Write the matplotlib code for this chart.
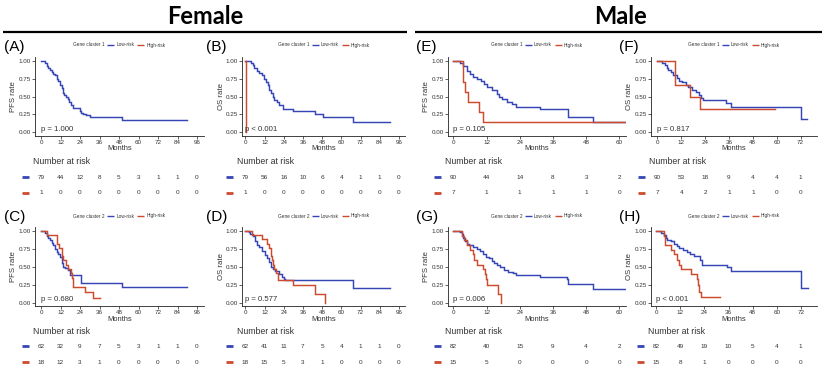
import matplotlib
matplotlib.use('Agg')
import matplotlib.pyplot as plt
from matplotlib.lines import Line2D
import matplotlib.transforms as mtransforms

# ---------------- data ----------------
panel_ids = ['A', 'B', 'C', 'D', 'E', 'F', 'G', 'H']
y_labels = ['PFS rate', 'OS rate', 'PFS rate', 'OS rate', 'PFS rate', 'OS rate', 'PFS rate', 'OS rate']
cluster_names = ['Gene cluster 1', 'Gene cluster 1', 'Gene cluster 2', 'Gene cluster 2',
                 'Gene cluster 1', 'Gene cluster 1', 'Gene cluster 2', 'Gene cluster 2']
p_values = ['p = 1.000', 'p < 0.001', 'p = 0.680', 'p = 0.577',
            'p = 0.105', 'p = 0.817', 'p = 0.006', 'p < 0.001']
group_names = ['Low-risk', 'High-risk']
header_titles = ['Female', 'Male']

# risk-table time points
female_ticks = [0, 12, 24, 36, 48, 60, 72, 84, 96]
male_pfs_ticks = [0, 12, 24, 36, 48, 60]
male_os_ticks = [0, 12, 24, 36, 48, 60, 72]

# Kaplan-Meier step curves (time in months, survival)
A_low_t = [0, 2.5, 3.5, 4.5, 5.5, 6.6, 7.6, 8.6, 9.7, 10.7, 11.7, 12.7, 13.4, 14.2, 15.2, 16.4, 17.3, 18.5, 19.5, 24, 24.7, 25.7, 27.7, 30.2, 33, 49.7, 89.8]
A_low_s = [1.0, 0.97, 0.93, 0.90, 0.88, 0.85, 0.82, 0.80, 0.75, 0.72, 0.66, 0.62, 0.55, 0.53, 0.50, 0.47, 0.42, 0.38, 0.34, 0.30, 0.27, 0.25, 0.24, 0.22, 0.21, 0.17, 0.17]
A_high_t = []
A_high_s = []

B_low_t = [0, 3.6, 4.6, 5.6, 7.1, 8.8, 10.5, 11.9, 13, 14, 15, 16.1, 17.2, 18.2, 19.7, 21.3, 23.4, 29.7, 43.3, 48.5, 67, 90.4]
B_low_s = [1.0, 0.97, 0.94, 0.90, 0.86, 0.83, 0.80, 0.75, 0.70, 0.66, 0.60, 0.55, 0.50, 0.46, 0.42, 0.38, 0.33, 0.30, 0.26, 0.22, 0.14, 0.14]
B_high_t = [0, 0.4, 0.4]
B_high_s = [1.0, 0.0, 0.0]

C_low_t = [0, 2.5, 3.5, 4.5, 5.5, 6.6, 7.6, 8.6, 9.7, 10.7, 11.7, 12.7, 13.8, 14.8, 16.9, 17.9, 24.5, 49.7, 89.8]
C_low_s = [1.0, 0.97, 0.93, 0.90, 0.87, 0.83, 0.80, 0.75, 0.71, 0.68, 0.63, 0.55, 0.50, 0.48, 0.45, 0.39, 0.27, 0.22, 0.22]
C_high_t = [0, 3.5, 9.7, 11.3, 12.7, 13.8, 15.2, 16.9, 18.3, 18.9, 19.5, 27.1, 32.3, 36.4]
C_high_s = [1.0, 0.94, 0.82, 0.76, 0.65, 0.59, 0.53, 0.47, 0.41, 0.35, 0.22, 0.15, 0.07, 0.07]

D_low_t = [0, 2.1, 3.1, 4.7, 6.2, 7.3, 8.3, 10.4, 12.5, 13.5, 15, 16, 17, 18.7, 20.8, 22.9, 23.9, 24.5, 67.2, 90.4]
D_low_s = [1.0, 0.98, 0.96, 0.92, 0.85, 0.80, 0.77, 0.72, 0.66, 0.62, 0.56, 0.50, 0.47, 0.44, 0.40, 0.36, 0.33, 0.32, 0.21, 0.21]
D_high_t = [0, 4.2, 10.4, 13.5, 15, 16, 16.7, 17.3, 18.1, 19.3, 20.2, 30.1, 43.7, 49.5]
D_high_s = [1.0, 0.94, 0.88, 0.82, 0.76, 0.65, 0.59, 0.53, 0.47, 0.41, 0.32, 0.24, 0.12, 0.0]

E_low_t = [0, 2.4, 3.6, 4.8, 6, 7.2, 8.4, 9.9, 11.1, 12.3, 13.9, 15.7, 16.6, 17.5, 19.3, 21.1, 22.7, 31.3, 41.6, 50.6, 62]
E_low_s = [1.0, 0.97, 0.93, 0.86, 0.82, 0.78, 0.75, 0.72, 0.68, 0.64, 0.60, 0.54, 0.50, 0.47, 0.43, 0.39, 0.35, 0.32, 0.22, 0.14, 0.14]
E_high_t = [0, 3.6, 4.2, 5.3, 9.4, 10.6, 62]
E_high_s = [1.0, 0.71, 0.57, 0.43, 0.29, 0.14, 0.14]

F_low_t = [0, 2.5, 3.7, 4.7, 5.5, 6.7, 8, 9.7, 10.9, 12.2, 14.2, 15.4, 17.6, 19.3, 20.9, 22.1, 23.1, 34.3, 36.8, 72, 75]
F_low_s = [1.0, 0.97, 0.94, 0.90, 0.87, 0.84, 0.80, 0.76, 0.72, 0.70, 0.67, 0.64, 0.60, 0.56, 0.52, 0.48, 0.45, 0.41, 0.35, 0.18, 0.18]
F_high_t = [0, 8.7, 16.4, 21.4, 59.1]
F_high_s = [1.0, 0.67, 0.50, 0.33, 0.33]

G_low_t = [0, 2.4, 3, 3.6, 4.2, 4.8, 5.8, 7.2, 8.4, 9.6, 10.8, 11.8, 13, 13.9, 14.7, 15.9, 16.9, 18.3, 19.9, 21.7, 22.7, 31.3, 41, 41.6, 50.6, 62]
G_low_s = [1.0, 0.98, 0.95, 0.90, 0.86, 0.82, 0.80, 0.78, 0.75, 0.72, 0.68, 0.64, 0.62, 0.58, 0.55, 0.52, 0.49, 0.46, 0.43, 0.41, 0.39, 0.36, 0.33, 0.26, 0.19, 0.19]
G_high_t = [0, 3, 4, 4.8, 6, 7, 7.6, 8.4, 10.8, 11.4, 11.8, 12.3, 16.3, 17.1]
G_high_s = [1.0, 0.93, 0.87, 0.80, 0.73, 0.67, 0.60, 0.53, 0.47, 0.40, 0.33, 0.24, 0.12, 0.0]

H_low_t = [0, 2.5, 3.8, 4.7, 5.5, 7.2, 8.8, 10.1, 11.3, 13.5, 15.5, 17, 18.8, 21.8, 23, 35.1, 37.1, 72, 75.4]
H_low_s = [1.0, 0.97, 0.94, 0.90, 0.87, 0.85, 0.82, 0.79, 0.76, 0.73, 0.70, 0.68, 0.65, 0.59, 0.53, 0.50, 0.44, 0.21, 0.21]
H_high_t = [0, 3.8, 4.5, 7.5, 8.8, 10.1, 11.3, 12.5, 17.5, 20.1, 20.8, 21.3, 22.1, 31.8]
H_high_s = [1.0, 0.93, 0.80, 0.73, 0.67, 0.60, 0.53, 0.47, 0.40, 0.33, 0.25, 0.15, 0.08, 0.08]

# numbers at risk
A_risk_low = [79, 44, 12, 8, 5, 3, 1, 1, 0]
A_risk_high = [1, 0, 0, 0, 0, 0, 0, 0, 0]
B_risk_low = [79, 56, 16, 10, 6, 4, 1, 1, 0]
B_risk_high = [1, 0, 0, 0, 0, 0, 0, 0, 0]
C_risk_low = [62, 32, 9, 7, 5, 3, 1, 1, 0]
C_risk_high = [18, 12, 3, 1, 0, 0, 0, 0, 0]
D_risk_low = [62, 41, 11, 7, 5, 4, 1, 1, 0]
D_risk_high = [18, 15, 5, 3, 1, 0, 0, 0, 0]
E_risk_low = [90, 44, 14, 8, 3, 2]
E_risk_high = [7, 1, 1, 1, 1, 0]
F_risk_low = [90, 53, 18, 9, 4, 4, 1]
F_risk_high = [7, 4, 2, 1, 1, 0, 0]
G_risk_low = [82, 40, 15, 9, 4, 2]
G_risk_high = [15, 5, 0, 0, 0, 0]
H_risk_low = [82, 49, 19, 10, 5, 4, 1]
H_risk_high = [15, 8, 1, 0, 0, 0, 0]

curves = {
    'A': ((A_low_t, A_low_s), (A_high_t, A_high_s)),
    'B': ((B_low_t, B_low_s), (B_high_t, B_high_s)),
    'C': ((C_low_t, C_low_s), (C_high_t, C_high_s)),
    'D': ((D_low_t, D_low_s), (D_high_t, D_high_s)),
    'E': ((E_low_t, E_low_s), (E_high_t, E_high_s)),
    'F': ((F_low_t, F_low_s), (F_high_t, F_high_s)),
    'G': ((G_low_t, G_low_s), (G_high_t, G_high_s)),
    'H': ((H_low_t, H_low_s), (H_high_t, H_high_s)),
}
risks = {
    'A': (A_risk_low, A_risk_high), 'B': (B_risk_low, B_risk_high),
    'C': (C_risk_low, C_risk_high), 'D': (D_risk_low, D_risk_high),
    'E': (E_risk_low, E_risk_high), 'F': (F_risk_low, F_risk_high),
    'G': (G_risk_low, G_risk_high), 'H': (H_risk_low, H_risk_high),
}
tick_sets = {'A': female_ticks, 'B': female_ticks, 'C': female_ticks, 'D': female_ticks,
             'E': male_pfs_ticks, 'F': male_os_ticks, 'G': male_pfs_ticks, 'H': male_os_ticks}

# ---------------- layout (pixels) ----------------
W, H = 824, 369
BLUE = '#3545B5'
RED = '#CC4A2E'
TXT = '#333333'

# zero-position px, px per month, xlim, panel-label x
geom = {
    'A': (41.0, 1.625, (-3.7, 100), 4),
    'B': (245.3, 1.60, (-1.9, 100), 206),
    'C': (41.0, 1.625, (-3.7, 100), 4),
    'D': (245.3, 1.60, (-1.9, 100), 206),
    'E': (453.3, 2.767, (-2.0, 62.5), 416),
    'F': (657.3, 1.99, (-3.3, 80), 619),
    'G': (453.3, 2.767, (-2.0, 62.5), 416),
    'H': (656.3, 2.006, (-2.8, 80), 619),
}
rows = {  # y px of surv=1, surv=0, panel label y, legend y, months y, NAR y, row1, row2
    'top': (61.0, 132.3, 47, 45, 148.5, 161, 177, 192.5),
    'bot': (230.7, 302.7, 217, 216, 319.5, 331.5, 346, 362),
}
row_of = {'A': 'top', 'B': 'top', 'E': 'top', 'F': 'top',
          'C': 'bot', 'D': 'bot', 'G': 'bot', 'H': 'bot'}

fig = plt.figure(figsize=(W / 100, H / 100), dpi=100)
plt.rcParams['font.family'] = ['Liberation Sans', 'DejaVu Sans']


def fx(x):
    return x / W


def fy(y):
    return 1 - y / H


def hline(x0, x1, y, color, lw):
    fig.add_artist(Line2D([fx(x0), fx(x1)], [fy(y), fy(y)], color=color, lw=lw,
                          transform=fig.transFigure, solid_capstyle='butt'))


# headers
fig.text(fx(205), fy(17), header_titles[0], ha='center', va='center',
         fontsize=17, fontweight='bold', family=['Lato', 'DejaVu Sans'], color='black')
fig.text(fx(620), fy(17), header_titles[1], ha='center', va='center',
         fontsize=17, fontweight='bold', family=['Lato', 'DejaVu Sans'], color='black')
hline(3, 407, 31.5, 'black', 1.6)
hline(415, 822, 31.5, 'black', 1.6)

for i, pid in enumerate(panel_ids):
    zero, ppm, xl, labx = geom[pid]
    y1, y0, laby, legy, monthy, nary, r1, r2 = rows[row_of[pid]]
    ppu = y0 - y1
    top = y1 - 0.05 * ppu
    bot = y0 + 0.05 * ppu
    left = zero + xl[0] * ppm
    right = zero + xl[1] * ppm
    ax = fig.add_axes([fx(left), fy(bot), fx(right - left), (bot - top) / H])
    ax.set_xlim(*xl)
    ax.set_ylim(-0.05, 1.05)
    for s in ['top', 'right']:
        ax.spines[s].set_visible(False)
    for s in ['left', 'bottom']:
        ax.spines[s].set_linewidth(0.6)
        ax.spines[s].set_color('#222222')
    ticks = tick_sets[pid]
    ax.set_xticks(ticks)
    ax.set_xticklabels([str(t) for t in ticks])
    ax.set_yticks([0, 0.25, 0.5, 0.75, 1.0])
    ax.set_yticklabels(['0.00', '0.25', '0.50', '0.75', '1.00'])
    ax.tick_params(axis='both', labelsize=4.5, length=2, width=0.5, pad=1.0,
                   colors='#222222', labelcolor=TXT)
    ax.patch.set_alpha(0)

    (lt, ls), (ht, hs) = curves[pid]
    if lt:
        ax.step(lt, ls, where='post', color=BLUE, lw=1.05, solid_joinstyle='miter')
    if ht:
        ax.step(ht, hs, where='post', color=RED, lw=1.05, solid_joinstyle='miter')

    ax.text(0, 0.045, p_values[i], fontsize=5.6, color=TXT, ha='left', va='center')

    # y label
    fig.text(fx(left - 21), fy((y1 + y0) / 2), y_labels[i], rotation=90,
             ha='center', va='center', fontsize=5.6, color=TXT)
    # x label
    cx = (left + right) / 2
    fig.text(fx(cx), fy(monthy), 'Months', ha='center', va='center', fontsize=5.4, color=TXT)
    # panel label
    fig.text(fx(labx), fy(laby), '(' + pid + ')', ha='left', va='center',
             fontsize=11, color='black')

    # legend
    lx = cx - 46
    fig.text(fx(lx), fy(legy), cluster_names[i], ha='left', va='center', fontsize=3.4, color=TXT)
    hline(lx + 34, lx + 41, legy, BLUE, 1.0)
    fig.text(fx(lx + 43), fy(legy), group_names[0], ha='left', va='center', fontsize=3.4, color=TXT)
    hline(lx + 64, lx + 71, legy, RED, 1.0)
    fig.text(fx(lx + 73), fy(legy), group_names[1], ha='left', va='center', fontsize=3.4, color=TXT)

    # risk table
    fig.text(fx(zero - 8), fy(nary), 'Number at risk', ha='left', va='center',
             fontsize=6.3, color=TXT)
    trans = mtransforms.blended_transform_factory(ax.transData, fig.transFigure)
    low_r, high_r = risks[pid]
    for ry, vals, col in ((r1, low_r, BLUE), (r2, high_r, RED)):
        hline(zero - 19, zero - 12, ry, col, 2.0)
        for t, v in zip(ticks, vals):
            ax.text(t, fy(ry), str(v), transform=trans, ha='center', va='center',
                    fontsize=4.6, color=TXT, clip_on=False)

fig.savefig('out.png', dpi=100)
